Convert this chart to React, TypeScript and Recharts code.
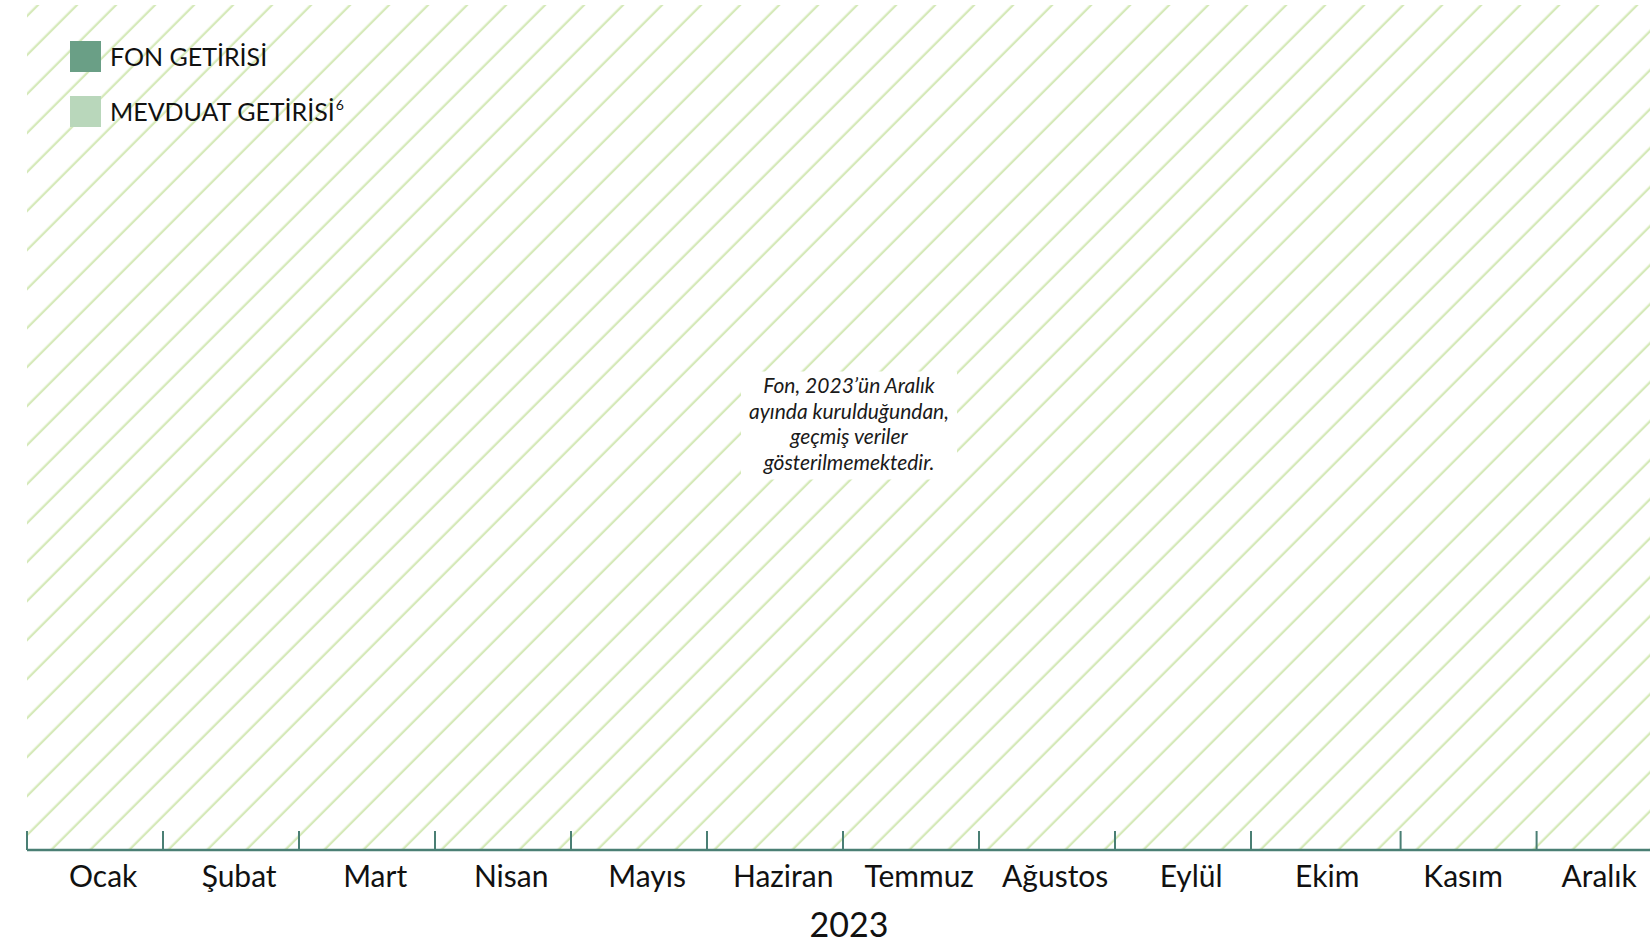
import React from 'react';
import { ComposedChart, XAxis, YAxis, ReferenceArea, Label, Line } from 'recharts';

// 2023 months (x axis categories)
const months = ['Ocak', 'Şubat', 'Mart', 'Nisan', 'Mayıs', 'Haziran', 'Temmuz', 'Ağustos', 'Eylül', 'Ekim', 'Kasım', 'Aralık'];
// where the month separators sit (in month units)
const tickPositions = [0, 1, 2, 3, 4, 5, 6, 7, 8, 9, 10.1, 11.1];
// where the month names sit (in month units)
const labelPositions = [0.56, 1.56, 2.56, 3.56, 4.56, 5.56, 6.56, 7.56, 8.56, 9.56, 10.56, 11.56];
const yearLabel = '2023';

// legend series, no values: fund started in December 2023
const seriesKeys = ['fon', 'mevduat'];
const seriesNames = ['FON GETİRİSİ', 'MEVDUAT GETİRİSİ'];
const seriesColors = ['#6a9f86', '#b9d7bb'];
const seriesSup = ['', '6'];
const fonValues: (number | null)[] = [null, null, null, null, null, null, null, null, null, null, null, null];
const mevduatValues: (number | null)[] = [null, null, null, null, null, null, null, null, null, null, null, null];

const noteLines = ['Fon, 2023’ün Aralık', 'ayında kurulduğundan,', 'geçmiş veriler', 'gösterilmemektedir.'];

const rows = months.map((m, i) => ({ month: m, pos: labelPositions[i], fon: fonValues[i], mevduat: mevduatValues[i] }));

const AXIS = '#4a7f74';
const HATCH = '#d5e9b9';
const FONT = 'Lato, "Noto Sans", sans-serif';

// month separator: short mark rising from the axis line
const UpTick = (props: any) => {
  const { x, y } = props;
  return <line x1={x} x2={x} y1={y} y2={y - 19} stroke={AXIS} strokeWidth={2} />;
};

const NoteLabel = (props: any) => {
  const vb = props.viewBox || { x: 0, y: 0, width: 0, height: 0 };
  const cx = vb.x + vb.width / 2 + 6;
  const cy = vb.y + vb.height / 2 - 2;
  const lh = 25.7;
  return (
    <g>
      <rect x={cx - 108} y={cy - 54} width={216} height={108} fill="#ffffff" />
      {noteLines.map((t, i) => (
        <text
          key={i}
          x={cx}
          y={cy + (i - 1.5) * lh + 6}
          textAnchor="middle"
          fontFamily={FONT}
          fontStyle="italic"
          fontSize={21}
          fill="#1a1a1a"
        >
          {t}
        </text>
      ))}
    </g>
  );
};

const App = () => {
  return (
    <div style={{ position: 'fixed', left: 0, top: 0, width: 1650, height: 945, overflow: 'hidden', background: '#fff' }}>
      <ComposedChart width={1660} height={945} data={rows} margin={{ top: 5, right: 1, bottom: 1, left: 27 }}>
        <defs>
          <pattern id="hatch" patternUnits="userSpaceOnUse" width={27.58} height={27.58} patternTransform="rotate(45)">
            <line x1={2.8} y1={0} x2={2.8} y2={27.58} stroke={HATCH} strokeWidth={2.3} />
          </pattern>
        </defs>
        <XAxis
          xAxisId="a_ticks"
          dataKey="pos"
          type="number"
          domain={[0, 12]}
          ticks={tickPositions}
          interval={0}
          height={1}
          tick={<UpTick />}
          tickSize={0}
          tickMargin={0}
          tickLine={false}
          axisLine={{ stroke: AXIS, strokeWidth: 2.5 }}
          allowDataOverflow
        />
        <XAxis
          xAxisId="b_labels"
          dataKey="pos"
          type="number"
          domain={[0, 12]}
          ticks={labelPositions}
          interval={0}
          height={93}
          tickSize={0}
          tickMargin={15}
          tickLine={false}
          axisLine={false}
          tickFormatter={(_v: number, i: number) => months[i]}
          tick={{ fontFamily: FONT, fontSize: 30, fill: '#111' }}
          allowDataOverflow
        >
          <Label value={yearLabel} position="insideBottom" offset={7} dx={6} fontFamily={FONT} fontSize={34} fill="#111" />
        </XAxis>
        <YAxis hide domain={[0, 1]} allowDataOverflow />
        <ReferenceArea
          xAxisId="a_ticks"
          x1={0}
          x2={12}
          y1={0}
          y2={1}
          fill="url(#hatch)"
          fillOpacity={1}
          stroke="none"
          ifOverflow="visible"
          label={<NoteLabel />}
        />
        {seriesKeys.map((k, i) => (
          <Line
            key={k}
            xAxisId="b_labels"
            dataKey={k}
            name={seriesNames[i]}
            stroke={seriesColors[i]}
            dot={false}
            isAnimationActive={false}
          />
        ))}
      </ComposedChart>
      <div style={{ position: 'absolute', left: 70, top: 41, fontFamily: FONT, color: '#111' }}>
        {seriesNames.map((name, i) => (
          <div key={name} style={{ display: 'flex', alignItems: 'center', height: 31, marginBottom: 24 }}>
            <div style={{ width: 31, height: 31, background: seriesColors[i] }} />
            <span style={{ marginLeft: 9, fontSize: 25, lineHeight: '31px' }}>
              {name}
              {seriesSup[i] && <sup style={{ fontSize: 14, verticalAlign: 'top', lineHeight: '18px', marginLeft: 1 }}>{seriesSup[i]}</sup>}
            </span>
          </div>
        ))}
      </div>
    </div>
  );
};

export default App;
